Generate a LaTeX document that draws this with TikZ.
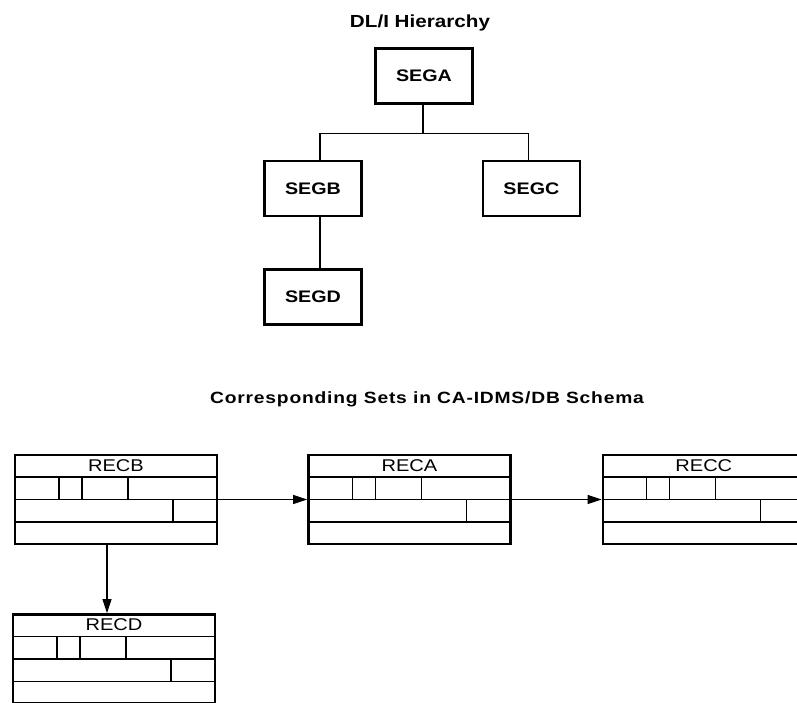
\documentclass[tikz,border=0pt]{standalone}
\usepackage{fontspec}
\setmainfont{Liberation Sans}[FakeStretch=1.18]
\usetikzlibrary{positioning, arrows.meta, calc}

\tikzset{
    segbox/.style={
        draw, line width=2.4pt, minimum width=97pt, minimum height=55pt,
        inner sep=0pt, font=\fontsize{16.7}{18}\selectfont\bfseries,
    },
    record/.style={
        draw, line width=2.4pt, minimum width=202pt, minimum height=89pt,
        inner sep=0pt,
        label={[reclabel]center:#1},
        path picture={
            \path (path picture bounding box.north west) coordinate (pnw);
            \begin{scope}[line width=1.2pt]
                \foreach \yrow in {22, 44.5, 67}
                    \draw ($(pnw)+(0pt,-\yrow pt)$) -- ++(210pt,0pt);
                \foreach \xcol in {44, 67, 113}
                    \draw ($(pnw)+(\xcol pt,-22pt)$) -- ++(0pt,-22.5pt);
                \draw ($(pnw)+(158pt,-44.5pt)$) -- ++(0pt,-22.5pt);
            \end{scope}
        },
    },
    reclabel/.style={yshift=34pt, font=\fontsize{17}{18}\selectfont},
    heading/.style={anchor=base, font=\fontsize{17.5}{20}\selectfont\bfseries},
    tree/.style={line width=1.1pt},
    setarrow/.style={-{Triangle[length=14pt, width=9pt]}, line width=1.2pt},
}

\begin{document}
\begin{tikzpicture}
\useasboundingbox (0pt,0pt) rectangle (797pt,-702pt);

% DL/I hierarchy
\node[heading] (dlititle) at (420pt,-27pt) {DL/I Hierarchy};
\node[segbox] (sega) at (424pt,-76pt) {SEGA};
\node[segbox, below=55pt of sega, xshift=-111pt] (segb) {SEGB};
\node[segbox, right=119pt of segb] (segc) {SEGC};
\node[segbox, below=51pt of segb] (segd) {SEGD};

\coordinate (fork) at ($(sega.south)+(-1pt,-29pt)$);
\draw[tree] ([xshift=-1pt]sega.south) -- (fork);
\draw[tree] ([xshift=7pt]segb.north) |- (fork) -| ([xshift=-3pt]segc.north);
\draw[tree] ([xshift=7pt]segb.south) -- ([xshift=7pt]segd.north);

% CA-IDMS/DB sets
\node[heading, font=\fontsize{16.3}{19}\selectfont\bfseries\addfontfeature{LetterSpace=5}]
    (idmstitle) at (427pt,-403pt) {Corresponding Sets in CA-IDMS/DB Schema};
\node[record=RECB] (recb) at (116pt,-499.5pt) {};
\node[record=RECA, right=89pt of recb] (reca) {};
\node[record=RECC, right=90pt of reca] (recc) {};
\node[record=RECD, below=68pt of recb, xshift=-2pt] (recd) {};

\draw[setarrow] (recb.east) -- (reca.west);
\draw[setarrow] (reca.east) -- (recc.west |- reca.east);
\draw[setarrow] ([xshift=-9pt]recb.south) -- ([xshift=-9pt]recb.south |- recd.north);

\end{tikzpicture}
\end{document}
